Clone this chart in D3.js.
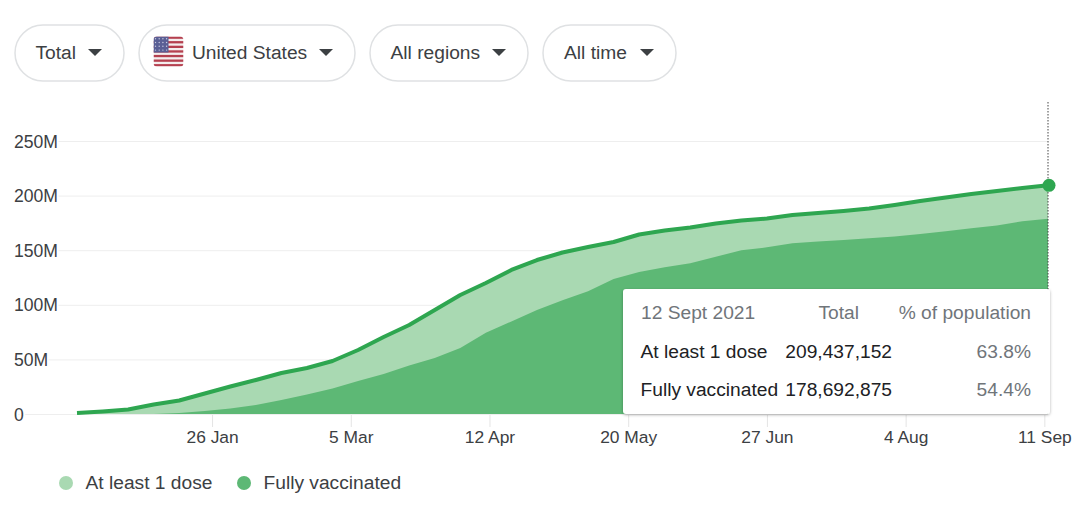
<!DOCTYPE html>
<html>
<head>
<meta charset="utf-8">
<script src="https://cdn.jsdelivr.net/npm/d3@7"></script>
<style>
	html, body { margin: 0; padding: 0; background: #fff; }
	svg { display: block; }
	text { font-family: "Liberation Sans", Arial, sans-serif; font-size: 19.2px; fill: #3c4043; }
</style>
</head>
<body>
<div id="chart"></div>
<script>
// weekly dates, first one is 20 Dec 2020
var firstDay = "2020-12-20";
var lastDay = "2021-09-12";

// values, in millions, one per week
var oneDose = [0.9, 2.3, 4.1, 8.7, 12.4, 18.8, 25.2, 31.1, 37.5, 42.1, 48.5, 58.6, 70.5, 81.5, 95.2, 109, 120, 131.9, 141, 147.9,
	152.9, 157.5, 164.4, 168, 170.8, 174.5, 177.2, 179, 182.2, 184.1, 185.9, 188.2, 191.4, 195, 198.3, 201.5, 204.2, 207, 209.437];
var fullyVaccinated = [0, 0, 0, 0, 0.9, 2.7, 5, 8.2, 12.8, 17.9, 23.4, 30.2, 36.6, 44.4, 51.3, 60.4, 74.3, 84.8, 95.2, 104.2,
	112.5, 123.6, 130, 134.3, 138, 144, 150, 152.6, 156.3, 158, 159.3, 161, 162.6, 164.8, 167.4, 170, 172.7, 176.5, 178.693];

var yTicks = [0, 50, 100, 150, 200, 250];
var yTickLabels = ["0", "50M", "100M", "150M", "200M", "250M"];
var xTicks = ["2021-01-26", "2021-03-05", "2021-04-12", "2021-05-20", "2021-06-27", "2021-08-04", "2021-09-11"];
var xTickLabels = ["26 Jan", "5 Mar", "12 Apr", "20 May", "27 Jun", "4 Aug", "11 Sep"];

var seriesNames = ["At least 1 dose", "Fully vaccinated"];
var seriesTotals = ["209,437,152", "178,692,875"];
var seriesPercents = ["63.8%", "54.4%"];
var pillLabels = ["Total", "United States", "All regions", "All time"];

var width = 1080;
var height = 507;
var lightGreen = "#a9d9b2";
var darkGreen = "#5db875";
var lineGreen = "#2ea650";
var labelFont = '"Liberation Sans", Arial, sans-serif';

var svg = d3.select("#chart").append("svg")
	.attr("width", width)
	.attr("height", height);

var parseDay = d3.utcParse("%Y-%m-%d");
var start = parseDay(firstDay);
var weeks = oneDose.map(function(d, i) {
	return d3.utcDay.offset(start, i * 7);
});

var xScale = d3.scaleUtc().domain([start, parseDay(lastDay)]).range([77, 1048]);
var yScale = d3.scaleLinear().domain([0, 250]).range([414, 141]);

// gridlines and y labels
//============
var yAxis = d3.axisLeft(yScale)
	.tickValues(yTicks)
	.tickSize(0)
	.tickFormat(function(d, i) { return yTickLabels[i]; });

var yGroup = svg.append("g").attr("class", "yAxis").call(yAxis);
yGroup.select(".domain").remove();
yGroup.selectAll(".tick line")
	.attr("x1", 16)
	.attr("x2", 1048)
	.attr("stroke", "#eeeeee");
yGroup.selectAll(".tick text")
	.attr("x", 14)
	.attr("dy", "0.35em")
	.attr("text-anchor", "start")
	.style("font-family", labelFont)
	.style("font-size", "17.6px")
	.style("fill", "#3c4043")
	.style("paint-order", "stroke")
	.style("stroke", "#fff")
	.style("stroke-width", "4px");

// areas and the top line
//============
function areaFor(values) {
	return d3.area()
		.x(function(d, i) { return xScale(weeks[i]); })
		.y0(yScale(0))
		.y1(function(d) { return yScale(d); })(values);
}

svg.append("path").attr("d", areaFor(oneDose)).attr("fill", lightGreen);
svg.append("path").attr("d", areaFor(fullyVaccinated)).attr("fill", darkGreen);

var topLine = d3.line()
	.x(function(d, i) { return xScale(weeks[i]); })
	.y(function(d) { return yScale(d); });

svg.append("path")
	.attr("d", topLine(oneDose))
	.attr("fill", "none")
	.attr("stroke", lineGreen)
	.attr("stroke-width", 4)
	.attr("stroke-linejoin", "round");

// x axis
//============
var xAxis = d3.axisBottom(xScale)
	.tickValues(xTicks.map(parseDay))
	.tickSize(12)
	.tickPadding(4)
	.tickFormat(function(d, i) { return xTickLabels[i]; });

var xGroup = svg.append("g")
	.attr("class", "xAxis")
	.attr("transform", "translate(0,415)")
	.call(xAxis);
xGroup.select(".domain").remove();
xGroup.selectAll(".tick line").attr("stroke", "#e4e4e4");
xGroup.selectAll(".tick text")
	.style("font-family", labelFont)
	.style("font-size", "17.4px")
	.style("fill", "#3c4043");

// hover marker
//============
svg.append("line")
	.attr("x1", xScale(parseDay(lastDay)))
	.attr("x2", xScale(parseDay(lastDay)))
	.attr("y1", 102)
	.attr("y2", 414)
	.attr("stroke", "#444")
	.attr("stroke-dasharray", "1.5 1.5");

svg.append("circle")
	.attr("cx", xScale(parseDay(lastDay)) + 1)
	.attr("cy", yScale(oneDose[oneDose.length - 1]))
	.attr("r", 6.5)
	.attr("fill", lineGreen);

// dropdown pills
//============
var pillX = [15, 139, 370, 543];
var pillW = [109, 216, 158, 133];
var pillTextX = [35.5, 192, 390.5, 564];

var pills = svg.selectAll("g.pill").data(pillLabels).enter().append("g").attr("class", "pill");
pills.append("rect")
	.attr("x", function(d, i) { return pillX[i]; })
	.attr("y", 25)
	.attr("width", function(d, i) { return pillW[i]; })
	.attr("height", 56)
	.attr("rx", 28)
	.attr("fill", "#fff")
	.attr("stroke", "#dfe1e3")
	.attr("stroke-width", 1.5);
pills.append("text")
	.attr("x", function(d, i) { return pillTextX[i]; })
	.attr("y", 59)
	.text(function(d) { return d; });
pills.append("path")
	.attr("d", function(d, i) {
		var ax = pillX[i] + pillW[i] - 36;
		return "M" + ax + ",49h14l-7,7z";
	})
	.attr("fill", "#3c4043");

// flag
var flagClip = svg.append("clipPath").attr("id", "flagClip");
flagClip.append("rect").attr("width", 30).attr("height", 30).attr("rx", 3.5);

var flag = svg.append("g")
	.attr("transform", "translate(153.5,36.5)")
	.attr("clip-path", "url(#flagClip)");
flag.append("rect").attr("width", 30).attr("height", 30).attr("fill", "#f4eeee");
d3.range(0, 7).forEach(function(i) {
	flag.append("rect")
		.attr("y", i * 4.6)
		.attr("width", 30)
		.attr("height", 2.3)
		.attr("fill", "#b5404f");
});
flag.append("rect").attr("width", 15).attr("height", 16).attr("fill", "#5a5f95");
d3.range(0, 4).forEach(function(row) {
	d3.range(0, 4).forEach(function(col) {
		flag.append("circle")
			.attr("cx", 2 + col * 3.7)
			.attr("cy", 2.2 + row * 3.8)
			.attr("r", 0.7)
			.attr("fill", "#c9cbe0");
	});
});

// tooltip
//============
var defs = svg.append("defs");
var shadow = defs.append("filter").attr("id", "tipShadow")
	.attr("x", "-5%").attr("y", "-5%").attr("width", "110%").attr("height", "115%");
shadow.append("feDropShadow")
	.attr("dx", 0).attr("dy", 1).attr("stdDeviation", 1.5)
	.attr("flood-color", "#000").attr("flood-opacity", 0.3);

var tip = svg.append("g").attr("class", "tip");
tip.append("rect")
	.attr("x", 623)
	.attr("y", 289)
	.attr("width", 427)
	.attr("height", 125)
	.attr("rx", 3)
	.attr("fill", "#fff")
	.attr("filter", "url(#tipShadow)");

tip.append("text").attr("x", 641).attr("y", 319).style("fill", "#70757a").text("12 Sept 2021");
tip.append("text").attr("x", 859).attr("y", 319).attr("text-anchor", "end").style("fill", "#70757a").text("Total");
tip.append("text").attr("x", 1031).attr("y", 319).attr("text-anchor", "end").style("fill", "#70757a").text("% of population");

seriesNames.forEach(function(name, i) {
	var rowY = 357.5 + i * 38.5;
	tip.append("text").attr("x", 640.5).attr("y", rowY).style("fill", "#202124").text(name);
	tip.append("text").attr("x", 892).attr("y", rowY).attr("text-anchor", "end").style("fill", "#202124").text(seriesTotals[i]);
	tip.append("text").attr("x", 1031).attr("y", rowY).attr("text-anchor", "end").style("fill", "#70757a").text(seriesPercents[i]);
});

// legend
//============
var legendDotX = [66, 244];
var legendColors = [lightGreen, darkGreen];
seriesNames.forEach(function(name, i) {
	svg.append("circle").attr("cx", legendDotX[i]).attr("cy", 483).attr("r", 7).attr("fill", legendColors[i]);
	svg.append("text").attr("x", legendDotX[i] + 19.5).attr("y", 489).text(name);
});
</script>
</body>
</html>
